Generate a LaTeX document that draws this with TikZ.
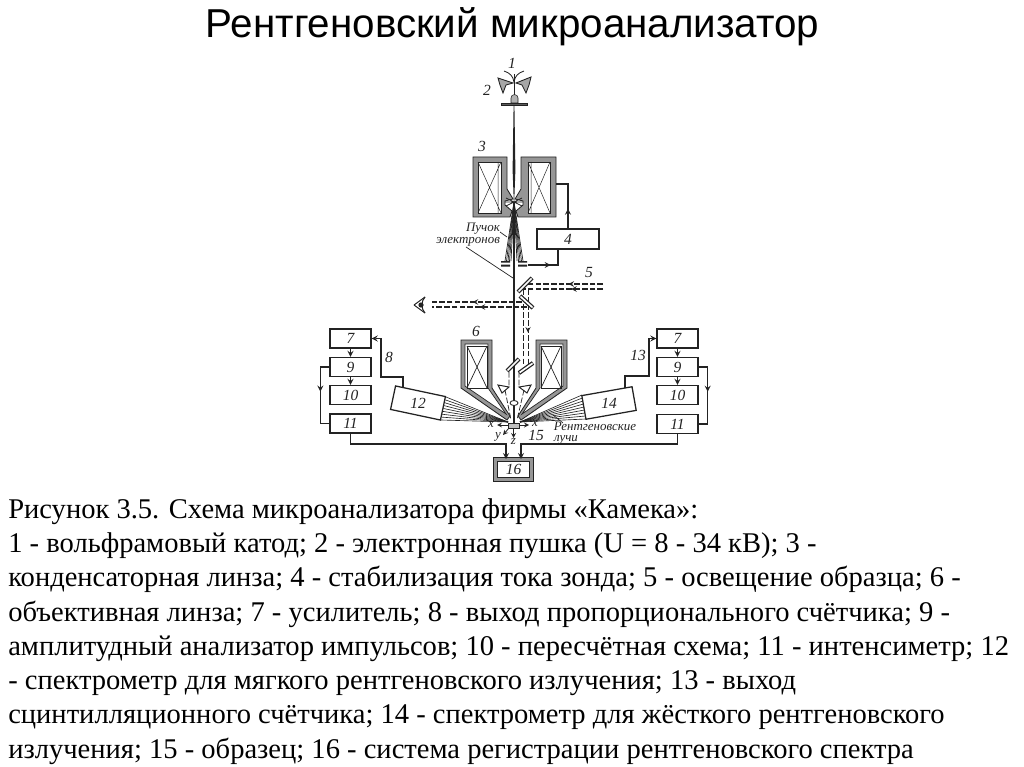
\documentclass[tikz,border=0pt]{standalone}
\usepackage{fontspec}
\setmainfont{Liberation Serif}
\newfontfamily\titlefont{Liberation Sans}
\usetikzlibrary{decorations.markings}
\definecolor{inkcolor}{RGB}{35,35,35}
\definecolor{yokecolor}{RGB}{150,150,150}
\tikzset{
  blockbox/.style={draw=inkcolor, line width=0.9pt, fill=white, inner sep=0pt, minimum width=41\pxu, minimum height=19\pxu},
  wire/.style={draw=inkcolor, line width=0.9pt},
  yoke/.style={draw=inkcolor, line width=0.6pt, fill=yokecolor},
  coil/.style={draw=inkcolor, line width=0.5pt, fill=white},
  ray/.style={draw=inkcolor, line width=0.35pt},
  lightray/.style={draw=inkcolor, line width=0.8pt, dash pattern=on 4pt off 1.5pt},
  mirror/.style={draw=inkcolor, line width=3pt, line cap=butt},
  mirrorcore/.style={draw=white, line width=1.2pt},
  tag/.style={font=\fontsize{11}{11}\selectfont\itshape, text=inkcolor, inner sep=0pt},
  wordtag/.style={font=\fontsize{9.2}{10}\selectfont\itshape, text=inkcolor, inner sep=0pt},
  midarrow/.style={postaction={decorate}, decoration={markings, mark=at position #1 with {\arrow{stealth}}}}
}
\newlength{\pxu}
\setlength{\pxu}{0.025cm}
\begin{document}
\begin{tikzpicture}[x=0.025cm, y=-0.025cm]
\useasboundingbox (0,0) rectangle (1024,767);
\node[font=\titlefont\fontsize{28.7}{32}\selectfont] (title) at (512.5,27) {Рентгеновский микроанализатор};
% electron gun
\draw[yoke, fill=gray!70] (498,78) -- (513,83) -- (506,85) -- (503,93) -- (500,85) -- cycle;
\draw[yoke, fill=gray!70] (531,77) -- (516,83) -- (522,85) -- (526,93) -- (529,85) -- cycle;
\draw[wire, line width=0.6pt] (504,71) .. controls (510,73) and (513,76) .. (514,82) .. controls (515,76) and (518,73) .. (524,71);
\draw[wire, line width=0.6pt] (514,74) -- (514,95);
\draw[inkcolor, fill=gray!60] (511,103) -- (511,98) arc (180:360:3.5) -- (518,103) -- cycle;
\draw[inkcolor, fill=inkcolor!75] (501,103) rectangle (527,105);
% condenser lens 3
\draw[yoke] (473,157) -- (507,157) -- (507,189) -- (513,199) -- (505,201) -- (505,205) -- (512,211) -- (510,217) -- (473,217) -- cycle;
\draw[yoke] (556,157) -- (521,157) -- (521,189) -- (515,199) -- (523,201) -- (523,205) -- (516,211) -- (518,217) -- (556,217) -- cycle;
\draw[coil] (478,162) rectangle (501,213);
\draw[ray] (478,162) -- (501,213) (501,162) -- (478,213) (498,162) -- (498,213);
\draw[coil] (528,162) rectangle (550,213);
\draw[ray] (528,162) -- (550,213) (550,162) -- (528,213) (531,162) -- (531,213);
\coordinate (yoke3) at (556,184);
% beam and apertures
\fill[inkcolor] (513.6,105) -- (514.4,105) -- (515.4,170) -- (514.2,202) -- (513.8,202) -- (512.6,170) -- cycle;
\draw[ray, line width=0.6pt] (506,198) -- (522,206) (522,198) -- (506,206) (505,202) -- (523,202);
\foreach \dx in {-9,-7.5,-6,-4.5,-3,3,4.5,6,7.5,9}
  \draw[ray, line width=0.5pt] (514,202) -- (514+\dx,261);
\fill[inkcolor] (514,202) -- (512,235) -- (516,235) -- cycle;
\draw[wire, line width=1.2pt] (514,235) -- (514,423);
\fill[inkcolor] (501,261) rectangle (510,262.5) (518,261) rectangle (527,262.5);
\fill[inkcolor] (501,264.5) rectangle (510,266.5) (518,264.5) rectangle (527,266.5);
\coordinate (plate) at (528,265);
% light path
\coordinate (lampa) at (603,284);
\coordinate (lampb) at (603,289);
\coordinate (mira) at (526,284);
\coordinate (mirb) at (523,289);
\coordinate (eyea) at (432,302);
\coordinate (eyeb) at (432,307);
\coordinate (mirc) at (522,302);
\coordinate (mird) at (527,307);
\draw[lightray, midarrow=0.45] (lampa) -- (mira);
\draw[lightray, midarrow=0.4] (lampb) -- (mirb);
\draw[lightray, midarrow=0.55] (mirc) -- (eyea);
\draw[lightray, midarrow=0.5] (mird) -- (eyeb);
\draw[lightray, line width=0.7pt] (523,289) -- (523,366);
\draw[lightray, line width=0.7pt, midarrow=0.55] (528,289) -- (528,368);
\draw[mirror] (518,292) -- (532,278);
\draw[mirrorcore] (518.5,291.5) -- (531.5,278.5);
\draw[mirror] (520,296) -- (533,308);
\draw[mirrorcore] (520.5,296.5) -- (532.5,307.5);
% eye
\draw[wire, line width=0.7pt] (414,305) -- (425,297) (414,305) -- (425,313);
\draw[wire, line width=0.7pt] (425,297) .. controls (421,301) and (421,309) .. (425,313);
\fill[inkcolor] (421,305) circle (2.6);
% objective lens 6
\draw[yoke] (461,340) -- (492,340) -- (492,388) -- (510,416) -- (507,420) -- (461,388) -- cycle;
\draw[yoke] (567,340) -- (536,340) -- (536,388) -- (518,416) -- (521,420) -- (567,388) -- cycle;
\draw[coil] (465,344) -- (488,344) -- (488,388) -- (506,414) -- (465,386) -- cycle;
\draw[coil] (563,344) -- (540,344) -- (540,388) -- (522,414) -- (563,386) -- cycle;
\draw[ray, line width=0.5pt] (467,346) rectangle (487,388);
\draw[ray, line width=0.5pt] (467,346) -- (487,388) (487,346) -- (467,388);
\draw[ray, line width=0.5pt] (541,346) rectangle (561,388);
\draw[ray, line width=0.5pt] (541,346) -- (561,388) (561,346) -- (541,388);
\draw[mirror] (507,371) -- (519,359);
\draw[mirrorcore] (507.5,370.5) -- (518.5,359.5);
\draw[mirror] (519,373) -- (533,363);
\draw[mirrorcore] (519.5,372.6) -- (532.5,363.4);
\draw[wire, line width=0.7pt] (498,385) -- (509,387) -- (502,393) -- cycle;
\draw[wire, line width=0.7pt] (531,385) -- (519,387) -- (527,393) -- cycle;
\draw[lightray, line width=0.5pt] (505,390) -- (511,420) (524,390) -- (517,420) (509,372) -- (509,386) (519,372) -- (519,386);
\draw[wire, line width=0.6pt, fill=white] (514,403) ellipse (4 and 2.5);
% x-ray fans
\foreach \t in {0,0.125,...,1.01}
  \draw[ray, line width=0.45pt] (508,422) -- ({446-5*\t},{397+23*\t});
\foreach \t in {0,0.125,...,1.01}
  \draw[ray, line width=0.45pt] (520,422) -- ({582+4*\t},{395+24*\t});
% sample 15
\draw[inkcolor, fill=gray!50, line width=0.6pt] (508,423) rectangle (519,428);
\coordinate (xl) at (497,425);
\coordinate (xr) at (529,425);
\coordinate (yy) at (503,435);
\coordinate (zz) at (513.5,438);
\draw[wire, line width=0.6pt, -stealth] (508,425) -- (xl);
\draw[wire, line width=0.6pt, -stealth] (519,425) -- (xr);
\draw[wire, line width=0.6pt, -stealth] (509,428) -- (yy);
\draw[wire, line width=0.6pt, -stealth] (513.5,428) -- (zz);
% blocks
\node[blockbox, tag, minimum width=62\pxu, minimum height=20\pxu] (stab) at (568,239) {4};
\node[blockbox, tag] (ampl) at (350.5,338.5) {7};
\node[blockbox, tag] (anal) at (350.5,367) {9};
\node[blockbox, tag] (coun) at (350.5,395) {10};
\node[blockbox, tag] (inte) at (350.5,423.5) {11};
\node[blockbox, tag] (amprr) at (677.5,338.5) {7};
\node[blockbox, tag] (analr) at (677.5,367) {9};
\node[blockbox, tag] (counr) at (677.5,395) {10};
\node[blockbox, tag] (inter) at (677.5,424) {11};
\node[blockbox, minimum width=51\pxu, minimum height=24\pxu, rotate=-12] (spec) at (418,403) {};
\node[blockbox, minimum width=51\pxu, minimum height=24\pxu, rotate=10] (specr) at (609,403) {};
\node[tag] (n12) at (spec) {12};
\node[tag] (n14) at (specr) {14};
\node[tag, draw=inkcolor, line width=0.6pt, double=yokecolor, double distance=2.2pt, fill=white, minimum width=36\pxu, minimum height=20\pxu] (regs) at (513.5,469.5) {16};
% connectors
\coordinate (st4) at (558,265);
\draw[wire, midarrow=0.5] (plate) -- (st4) -- (stab.south -| st4);
\draw[wire, midarrow=0.35] (stab.north) -- (yoke3 -| stab.north) -- (yoke3);
\coordinate (o8) at (403,388);
\coordinate (o8a) at (403,377);
\coordinate (o8b) at (381,377);
\draw[wire, -stealth] (o8) -- (o8a) -- (o8b) |- (ampl.east);
\draw[wire, -stealth] (ampl) -- (anal);
\draw[wire, -stealth] (anal) -- (coun);
\draw[wire, midarrow=0.45] (anal.west) -- ++(-9,0) |- (inte.west);
\coordinate (o13) at (625,388);
\coordinate (o13a) at (625,376);
\coordinate (o13b) at (649,376);
\draw[wire, -stealth] (o13) -- (o13a) -- (o13b) |- (amprr.west);
\draw[wire, -stealth] (amprr) -- (analr);
\draw[wire, -stealth] (analr) -- (counr);
\draw[wire, midarrow=0.45] (analr.east) -- ++(9,0) |- (inter.east);
\coordinate (rega) at (506,444);
\coordinate (regb) at (521,444);
\draw[wire, -stealth] (inte.south) |- (rega) -- (regs.north -| rega);
\draw[wire, -stealth] (inter.south) |- (regb) -- (regs.north -| regb);
% leaders
\coordinate (bm1) at (513,278);
\coordinate (bm2) at (507,237);
\coordinate (xr1) at (553,415);
\coordinate (xr2) at (563,423);
\draw[ray, line width=0.5pt] (466,247) -- (bm1);
\draw[ray, line width=0.5pt] (500,232) -- (bm2);
\draw[ray, line width=0.5pt] (xr1) -- (xr2);
% labels
\node[tag] (n1) at (512,63) {1};
\node[tag] (n2) at (487,90) {2};
\node[tag] (n3) at (482,146) {3};
\node[tag] (n5) at (589,273) {5};
\node[tag] (n6) at (476,331) {6};
\node[tag] (n8) at (389,357) {8};
\node[tag] (n13) at (638,355) {13};
\node[tag] (n15) at (536,435) {15};
\node[wordtag] (nx) at (491,425) {x};
\node[wordtag] (nxr) at (535,424) {x};
\node[wordtag] (ny) at (498,437) {y};
\node[wordtag] (nz) at (513.5,442) {z};
\node[wordtag] (beama) at (483,228.5) {Пучок};
\node[wordtag] (beamb) at (468,242) {электронов};
\node[wordtag] (xraya) at (595,426.5) {Рентгеновские};
\node[wordtag] (xrayb) at (566,439.5) {лучи};
% caption
\node[anchor=north west, align=left, inner sep=0pt, font=\fontsize{20.3}{24.4}\selectfont] (caption) at (8,498) {Рисунок 3.5. Схема микроанализатора фирмы «Камека»:\\
1 - вольфрамовый катод; 2 - электронная пушка (U = 8 - 34 кВ); 3 -\\
конденсаторная линза; 4 - стабилизация тока зонда; 5 - освещение образца; 6 -\\
объективная линза; 7 - усилитель; 8 - выход пропорционального счётчика; 9 -\\
амплитудный анализатор импульсов; 10 - пересчётная схема; 11 - интенсиметр; 12\\
- спектрометр для мягкого рентгеновского излучения; 13 - выход\\
сцинтилляционного счётчика; 14 - спектрометр для жёсткого рентгеновского\\
излучения; 15 - образец; 16 - система регистрации рентгеновского спектра};
\end{tikzpicture}
\end{document}
